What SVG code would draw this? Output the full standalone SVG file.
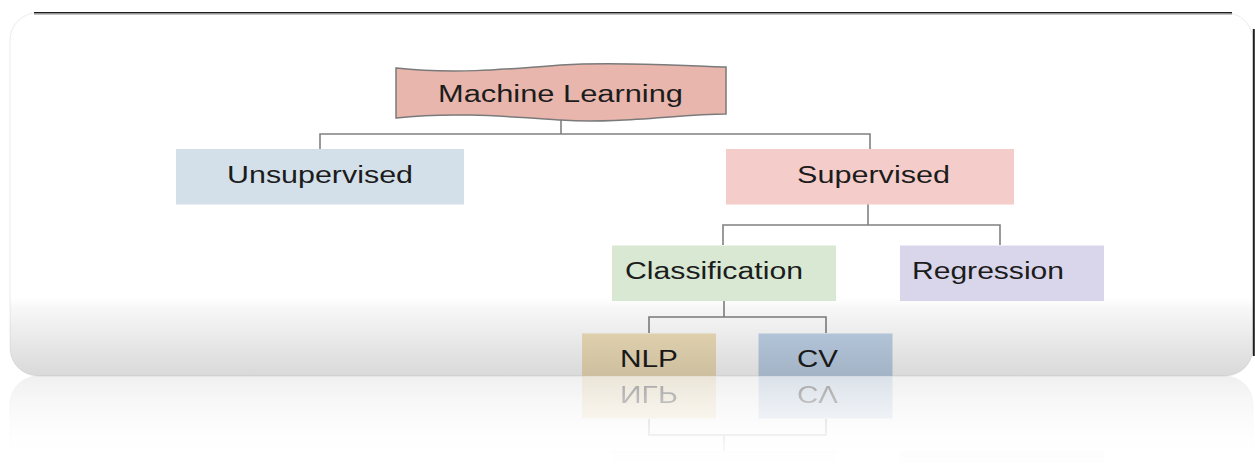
<svg xmlns="http://www.w3.org/2000/svg" xmlns:xlink="http://www.w3.org/1999/xlink" width="1255" height="466" viewBox="0 0 1255 466">
  <defs>
    <style>
      .lbl { font-family: "Liberation Sans", Arial, sans-serif; font-size: 23px; fill: #1c1c1c; }
      .box { stroke: none; }
      .wire { fill: none; stroke: #808080; stroke-width: 1.6; }
    </style>
    <!-- grey sheen over the lower part of the card -->
    <linearGradient id="sheen" gradientUnits="userSpaceOnUse" x1="0" y1="298" x2="0" y2="376">
      <stop offset="0" stop-color="#000" stop-opacity="0"/>
      <stop offset="0.12" stop-color="#000" stop-opacity="0.03"/>
      <stop offset="1" stop-color="#000" stop-opacity="0.15"/>
    </linearGradient>
    <!-- fade for the mirrored copy under the card -->
    <linearGradient id="fadeGrad" gradientUnits="userSpaceOnUse" x1="0" y1="376" x2="0" y2="466">
      <stop offset="0" stop-color="#fff" stop-opacity="0.4"/>
      <stop offset="1" stop-color="#fff" stop-opacity="0"/>
    </linearGradient>
    <mask id="fade" maskUnits="userSpaceOnUse" x="0" y="376" width="1255" height="90">
      <rect x="0" y="376" width="1255" height="90" fill="url(#fadeGrad)"/>
    </mask>
    <clipPath id="cardClip">
      <rect x="10" y="12.5" width="1243" height="363.5" rx="28" ry="28"/>
    </clipPath>
  </defs>

  <rect x="0" y="0" width="1255" height="466" fill="#ffffff"/>

  <g id="card">
    <rect x="10" y="12.5" width="1243" height="363.5" rx="28" ry="28" fill="#ffffff" stroke="#ececec" stroke-width="1"/>
    <g clip-path="url(#cardClip)">
      <g id="connectors">
        <path class="wire" d="M561,120 V134 M320,149 V134 H870 V149"/>
        <path class="wire" d="M868,204 V225 M723,245 V225 H1000 V245"/>
        <path class="wire" d="M724,301 V317 M649,333 V317 H826 V333"/>
      </g>

      <g id="machine-learning">
        <path d="M396,68 C450,74 500,70 561,65 C620,61 680,66 726,67 L726,114 C680,114 620,124 561,120 C500,116 450,112 396,118 Z" fill="#e8b6ad" stroke="#7a7a7a" stroke-width="1.5"/>
        <text class="lbl" x="438" y="102" textLength="245" lengthAdjust="spacingAndGlyphs">Machine Learning</text>
      </g>

      <g id="unsupervised">
        <rect class="box" x="176" y="149" width="288" height="55.5" fill="#d3e0e9"/>
        <text class="lbl" x="227" y="182.5" textLength="186" lengthAdjust="spacingAndGlyphs">Unsupervised</text>
      </g>

      <g id="supervised">
        <rect class="box" x="726" y="149" width="288" height="55.5" fill="#f4cdca"/>
        <text class="lbl" x="797" y="182.5" textLength="153" lengthAdjust="spacingAndGlyphs">Supervised</text>
      </g>

      <g id="classification">
        <rect class="box" x="612" y="245.5" width="224" height="55.5" fill="#d8e8d3"/>
        <text class="lbl" x="625" y="278.5" textLength="178" lengthAdjust="spacingAndGlyphs">Classification</text>
      </g>

      <g id="regression">
        <rect class="box" x="900" y="245.5" width="204" height="55.5" fill="#d9d5ea"/>
        <text class="lbl" x="912" y="278.5" textLength="152" lengthAdjust="spacingAndGlyphs">Regression</text>
      </g>

      <g id="nlp">
        <rect class="box" x="582" y="333.5" width="134" height="55" fill="#f1e0bb"/>
        <text class="lbl" x="620" y="366.5" textLength="58" lengthAdjust="spacingAndGlyphs">NLP</text>
      </g>

      <g id="cv">
        <rect class="box" x="758.5" y="333.5" width="134" height="55" fill="#c0d3e9"/>
        <text class="lbl" x="797" y="366.5" textLength="41" lengthAdjust="spacingAndGlyphs">CV</text>
      </g>

      <rect x="10" y="290" width="1243" height="90" fill="url(#sheen)"/>
    </g>
  </g>

  <!-- mirrored copy of the card below its bottom edge -->
  <g id="reflection" mask="url(#fade)">
    <use xlink:href="#card" href="#card" transform="matrix(1 0 0 -1 0 752)"/>
  </g>

  <!-- dark frame edges along the top and right -->
  <path d="M34,12.8 H1232" stroke="#1e1e1e" stroke-width="1.6" fill="none"/>
  <path d="M34,14.4 H1232" stroke="#bdbdbd" stroke-width="1" fill="none"/>
  <path d="M1253.8,29 V356" stroke="#1e1e1e" stroke-width="2" fill="none"/>
</svg>
